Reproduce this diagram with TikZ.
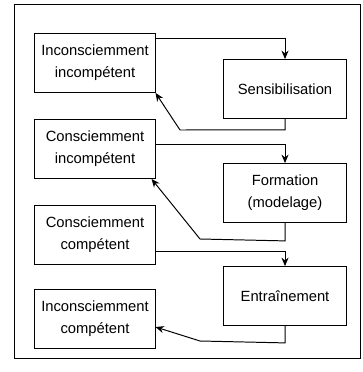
\documentclass[tikz,border=0pt]{standalone}
\usepackage{fontspec}
\setmainfont{Liberation Sans}
\usetikzlibrary{arrows.meta}
\begin{document}
\begin{tikzpicture}[x=0.025cm,y=-0.025cm,
    box/.style={draw,line width=0.7pt,minimum width=3cm,minimum height=1.47cm,
      align=center,inner sep=1pt,font=\fontsize{10.5}{15.5}\selectfont},
    link/.style={line width=0.7pt,-{Stealth[length=6pt,width=5pt]}}]
    \useasboundingbox (0,0) rectangle (362,372);
    \draw[line width=0.6pt] (14,4) rectangle (360,358);
    % stages of competence
    \node[box] (A0_0) at (95,63) {Inconsciemment\\incompétent};
    \node[box] (A1_0) at (95,149) {Consciemment\\incompétent};
    \node[box] (A2_0) at (95,235) {Consciemment\\compétent};
    \node[box] (A3_0) at (95,319) {Inconsciemment\\compétent};
    % learning steps
    \node[box,minimum width=3.05cm] (A0_1) at (285,89) {Sensibilisation};
    \node[box,minimum width=3.05cm] (A1_1) at (285,193) {Formation\\(modelage)};
    \node[box,minimum width=3.05cm] (A2_1) at (285,296) {Entraînement};
    % forward links
    \draw[link] ([yshift=-0.125cm]A0_0.north east) -| (A0_1.north);
    \draw[link] ([yshift=-0.625cm]A1_0.north east) -| (A1_1.north);
    \draw[link] ([yshift=-1.17cm]A2_0.north east) -| (A2_1.north);
    % return links
    \draw[link] (A0_1.south) -- ++(0,11) -- (180,130) -- (A0_0.south east);
    \draw[link] (A1_1.south) -- ++(0,18) -- (200,239) -- ([xshift=-0.1cm]A1_0.south east);
    \draw[link] (A2_1.south) -- ++(0,17) -- (200,341) -- ([yshift=-0.2cm]A3_0.east);
\end{tikzpicture}
\end{document}
